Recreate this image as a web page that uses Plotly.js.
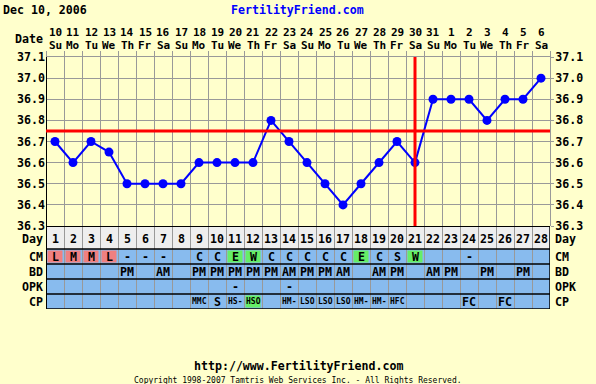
<!DOCTYPE html>
<html>
<head>
<meta charset="utf-8">
<script src="https://cdn.plot.ly/plotly-3.0.1.min.js"></script>
<style>html,body{margin:0;padding:0;background:#FFFFCC;}#chart{width:596px;height:384px;}</style>
</head>
<body>
<div id="chart"></div>
<script>
// ---------- data ----------
const cycleDays = [1,2,3,4,5,6,7,8,9,10,11,12,13,14,15,16,17,18,19,20,21,22,23,24,25,26,27,28];
const dateNums = ['10','11','12','13','14','15','16','17','18','19','20','21','22','23','24','25','26','27','28','29','30','31','1','2','3','4','5','6'];
const weekdays = ['Su','Mo','Tu','We','Th','Fr','Sa','Su','Mo','Tu','We','Th','Fr','Sa','Su','Mo','Tu','We','Th','Fr','Sa','Su','Mo','Tu','We','Th','Fr','Sa'];
const temps = [36.7,36.6,36.7,36.65,36.5,36.5,36.5,36.5,36.6,36.6,36.6,36.6,36.8,36.7,36.6,36.5,36.4,36.5,36.6,36.7,36.6,36.9,36.9,36.9,36.8,36.9,36.9,37.0];
const cmValues = ['L','M','M','L','-','-','-','','C','C','E','W','C','C','C','C','C','E','C','S','W','','','-','','','',''];
const bdValues = ['','','','','PM','','AM','','PM','PM','PM','PM','PM','AM','PM','PM','AM','','AM','PM','','AM','PM','','PM','','PM',''];
const opkValues = ['','','','','','','','','','','-','','','-','','','','','','','','','','','','','',''];
const cpValues = ['','','','','','','','','MMC','S','HS-','HSO','','HM-','LSO','LSO','LSO','HM-','HM-','HFC','','','','FC','','FC','',''];
const yTicks = [36.3,36.4,36.5,36.6,36.7,36.8,36.9,37.0,37.1];
const coverline = 36.75;
const ovulationDay = 21;
const rowLabels = ['Day','CM','BD','OPK','CP'];

// ---------- style ----------
const W = 596, H = 384;
const BG = '#FFFFCC', GRID = '#999999', BLUE_ROW = '#88BBEE', DAY_ROW = '#EEEEEE';
const PINK = '#F08080', GREEN = '#66EE66';
const FONT = 'DejaVu Sans Mono, Liberation Mono, monospace';
const fBold = (size, color) => ({family: FONT, size: size, color: color || '#000', weight: 'bold'});
const cellColor = {L: PINK, M: PINK, H: PINK, E: GREEN, W: GREEN, HSO: GREEN};

// pixel layout
const plotTopPx = 57, plotBotPx = 226, tableBotPx = 309;
const plotDomain = [1 - plotBotPx / H, 1 - plotTopPx / H];
const tableDomain = [1 - tableBotPx / H, 1 - plotBotPx / H];
// table rows in y2 units (1 unit = 1px), bottom to top
const rowSpan = {CP: [0, 15], OPK: [15, 30], BD: [30, 45], CM: [45, 60], Day: [60, 83]};
const rowMid = k => (rowSpan[k][0] + rowSpan[k][1]) / 2;

const n = cycleDays.length;
const xMin = cycleDays[0] - 0.5, xMax = cycleDays[n - 1] + 0.5;
const bounds = [];
for (let i = 0; i <= n; i++) bounds.push(xMin + i);

const shapes = [];
const annotations = [];

// row backgrounds
rowLabels.forEach(k => {
  shapes.push({type: 'rect', xref: 'x', yref: 'y2', x0: xMin, x1: xMax, y0: rowSpan[k][0], y1: rowSpan[k][1],
    fillcolor: k === 'Day' ? DAY_ROW : BLUE_ROW, line: {width: 0}, layer: 'below'});
});

// coloured cells + cell texts
const inset = 1.5 / 18;
function addRow(key, values) {
  values.forEach((v, i) => {
    if (!v) return;
    const d = cycleDays[i];
    if (cellColor[v]) {
      shapes.push({type: 'rect', xref: 'x', yref: 'y2', x0: d - 0.5 + inset, x1: d + 0.5 - inset,
        y0: rowSpan[key][0] + 1.5, y1: rowSpan[key][1] - 1.5, fillcolor: cellColor[v], line: {width: 0}, layer: 'below'});
    }
    annotations.push({xref: 'x', yref: 'y2', x: d, y: rowMid(key), text: v, showarrow: false,
      xanchor: 'center', yanchor: 'middle', font: v.length >= 3 ? fBold(8) : fBold(11.6)});
  });
}
addRow('CM', cmValues);
addRow('BD', bdValues);
addRow('OPK', opkValues);
addRow('CP', cpValues);

// day numbers
cycleDays.forEach(d => {
  annotations.push({xref: 'x', yref: 'y2', x: d, y: rowMid('Day') - 1, text: String(d), showarrow: false,
    xanchor: 'center', yanchor: 'middle', font: fBold(11.6)});
});

// row labels both sides
rowLabels.forEach(k => {
  const yy = k === 'Day' ? rowMid(k) - 1 : rowMid(k);
  annotations.push({xref: 'x', yref: 'y2', x: xMin, xshift: -1, y: yy, text: k, showarrow: false, xanchor: 'right', yanchor: 'middle', font: fBold(11.6)});
  annotations.push({xref: 'x', yref: 'y2', x: xMax, xshift: 3, y: yy, text: k, showarrow: false, xanchor: 'left', yanchor: 'middle', font: fBold(11.6)});
});

// dates on top
cycleDays.forEach((d, i) => {
  annotations.push({xref: 'x', yref: 'paper', x: d, y: 1 - 32.3 / H, text: dateNums[i], showarrow: false, xanchor: 'center', yanchor: 'middle', font: fBold(11)});
  annotations.push({xref: 'x', yref: 'paper', x: d, y: 1 - 45.7 / H, text: weekdays[i], showarrow: false, xanchor: 'center', yanchor: 'middle', font: fBold(11)});
});
annotations.push({xref: 'x', yref: 'paper', x: xMin, xshift: -1, y: 1 - 39 / H, text: 'Date', showarrow: false, xanchor: 'right', yanchor: 'middle', font: fBold(11.6)});

// header / footer
annotations.push({xref: 'paper', yref: 'paper', x: (297 - 46) / 504, y: 1 - 10 / H, text: 'FertilityFriend.com', showarrow: false, xanchor: 'center', yanchor: 'middle', font: fBold(11.6, '#0000FF')});
annotations.push({xref: 'paper', yref: 'paper', x: (298 - 46) / 504, y: 1 - 365.5 / H, text: 'http://www.FertilityFriend.com', showarrow: false, xanchor: 'center', yanchor: 'middle', font: fBold(11.6)});
annotations.push({xref: 'paper', yref: 'paper', x: (297.5 - 46) / 504, y: 1 - 380.5 / H, text: 'Copyright 1998-2007 Tamtris Web Services Inc. - All Rights Reserved.', showarrow: false, xanchor: 'center', yanchor: 'middle', font: {family: FONT, size: 8, color: '#000'}});

// table lines
[0, 15, 30, 45, 60, 83].forEach(v => {
  shapes.push({type: 'line', xref: 'x', yref: 'y2', x0: xMin, x1: xMax, y0: v, y1: v, line: {color: '#000', width: v === 83 ? 2 : 1.5}, layer: 'above'});
});
shapes.push({type: 'line', xref: 'x', yref: 'y2', x0: xMax, x1: xMax, y0: 0, y1: 83, line: {color: '#000', width: 1.5}, layer: 'above'});
shapes.push({type: 'line', xref: 'x', yref: 'paper', x0: xMin, x1: xMin, y0: tableDomain[0], y1: plotDomain[1], line: {color: '#000', width: 2}, layer: 'above'});

// coverline and ovulation line
shapes.push({type: 'line', xref: 'x', yref: 'y', x0: xMin, x1: xMax, y0: coverline, y1: coverline, line: {color: '#FF0000', width: 3}, layer: 'above'});
shapes.push({type: 'line', xref: 'x', yref: 'y', x0: ovulationDay, x1: ovulationDay, y0: yTicks[0], y1: yTicks[yTicks.length - 1] + 0.024, line: {color: '#FF0000', width: 3}, layer: 'above'});

const tickText = yTicks.map(v => v.toFixed(1));
const yRange = [yTicks[0], yTicks[yTicks.length - 1]];

const traces = [{
  type: 'scatter', mode: 'lines+markers', x: cycleDays, y: temps, xaxis: 'x', yaxis: 'y',
  line: {color: '#0000FF', width: 2}, marker: {color: '#0000FF', size: 9}, cliponaxis: false, hoverinfo: 'skip'
}];

const layout = {
  width: W, height: H,
  margin: {l: 46, r: 46, t: 0, b: 0, pad: 0},
  paper_bgcolor: BG, plot_bgcolor: BG,
  showlegend: false,
  title: {text: 'Dec 10, 2006', xref: 'container', yref: 'container', x: 3 / W, xanchor: 'left', y: 1 - 10 / H, yanchor: 'middle', font: fBold(11.6)},
  xaxis: {range: [xMin, xMax], anchor: 'y2', tickvals: bounds, showticklabels: false, ticks: '', showgrid: true, gridcolor: GRID, gridwidth: 1, zeroline: false, showline: false, fixedrange: true},
  xaxis2: {range: [xMin, xMax], overlaying: 'x', side: 'top', anchor: 'y', tickvals: bounds, showticklabels: false, ticks: 'outside', ticklen: 5, tickcolor: GRID, tickwidth: 1, showgrid: false, zeroline: false, showline: true, linecolor: GRID, linewidth: 1},
  yaxis: {domain: plotDomain, range: yRange, tickvals: yTicks, ticktext: tickText, ticks: '', showgrid: true, gridcolor: GRID, gridwidth: 1, zeroline: false, showline: false, tickfont: fBold(11.6), anchor: 'x'},
  yaxis3: {domain: plotDomain, range: yRange, overlaying: 'y', side: 'right', anchor: 'x', tickvals: yTicks, ticktext: tickText, ticks: 'outside', ticklen: 3, tickcolor: GRID, showgrid: false, zeroline: false, showline: true, linecolor: GRID, linewidth: 1, tickfont: fBold(11.6), ticklabelstandoff: -1},
  yaxis2: {domain: tableDomain, range: [0, 83], showgrid: false, showticklabels: false, ticks: '', zeroline: false, showline: false, anchor: 'x'},
  shapes: shapes,
  annotations: annotations
};

traces.push({type: 'scatter', x: [cycleDays[0]], y: [temps[0]], xaxis: 'x2', yaxis: 'y', mode: 'markers', marker: {opacity: 0}, hoverinfo: 'skip'});
traces.push({type: 'scatter', x: [cycleDays[0]], y: [temps[0]], xaxis: 'x', yaxis: 'y3', mode: 'markers', marker: {opacity: 0}, hoverinfo: 'skip'});
traces.push({type: 'scatter', x: [cycleDays[0]], y: [10], xaxis: 'x', yaxis: 'y2', mode: 'markers', marker: {opacity: 0}, hoverinfo: 'skip'});

Plotly.newPlot('chart', traces, layout, {staticPlot: true, displayModeBar: false});
</script>
</body>
</html>
